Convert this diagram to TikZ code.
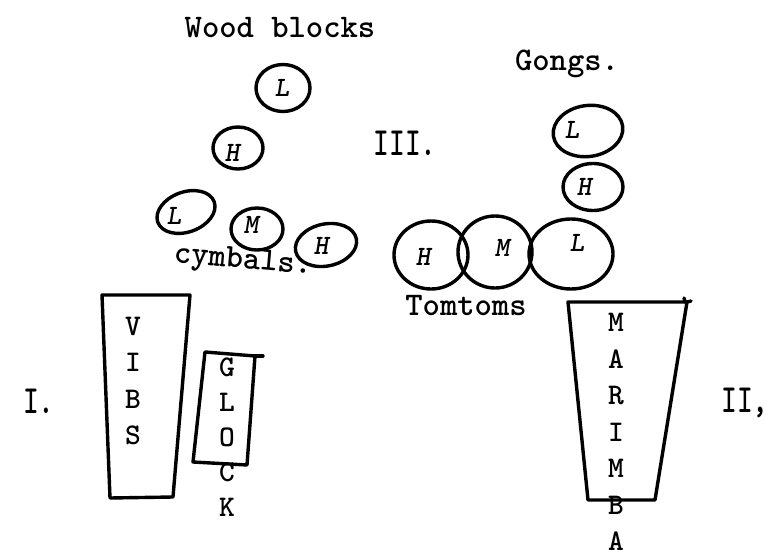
\documentclass[tikz,border=0pt]{standalone}
\usepackage{graphicx}
\usetikzlibrary{shapes.geometric}
\tikzset{
  drum/.style={ellipse, draw, line width=3.4pt, inner sep=0pt},
  ltr/.style={font=\ttfamily\bfseries\itshape\fontsize{28}{28}\selectfont, inner sep=0pt},
  lbl/.style={font=\ttfamily\bfseries\fontsize{33}{33}\selectfont, inner sep=0pt, anchor=base},
  roman/.style={font=\ttfamily\bfseries\fontsize{40}{40}\selectfont, inner sep=0pt, anchor=base},
  vert/.style={font=\ttfamily\bfseries\fontsize{30}{36.5}\selectfont, align=center, inner sep=0pt},
  frame/.style={draw, line width=3.4pt, line join=round, line cap=round}
}
\begin{document}
\begin{tikzpicture}[x=1pt,y=-1pt]
\useasboundingbox (0,0) rectangle (772,557);

% titles
\node[lbl] (wood) at (280,37) {Wood blocks};
\node[lbl] (gongs) at (567,70) {Gongs.};
\node[roman] (three) at (405,155) {\scalebox{0.75}[1]{III.}};
\node[lbl, anchor=center, rotate=-5] (cym) at (243,262) {cymbals.};
\node[lbl] (tom) at (466,315) {Tomtoms};
\node[roman] (one) at (39,413) {\scalebox{0.75}[1]{I.}};
\node[roman] (two) at (745,412) {\scalebox{0.75}[1]{II,}};

% wood blocks
\node[drum, minimum width=54pt, minimum height=47pt] (wbL) at (283,88) {};
\node[ltr] (wbLt) at (282,88) {L};
\node[drum, minimum width=50pt, minimum height=42pt] (wbH) at (238,148) {};
\node[ltr] (wbHt) at (232,153) {H};

% cymbals
\node[drum, minimum width=60pt, minimum height=40pt, rotate=20] (cyL) at (186,212) {};
\node[ltr] (cyLt) at (174,216) {L};
\node[drum, minimum width=52pt, minimum height=42pt] (cyM) at (257,229) {};
\node[ltr] (cyMt) at (251,225) {M};
\node[drum, minimum width=62pt, minimum height=42pt, rotate=12] (cyH) at (326,245) {};
\node[ltr] (cyHt) at (321,246) {H};

% gongs
\node[drum, minimum width=70pt, minimum height=51pt, rotate=8] (goL) at (588,131) {};
\node[ltr] (goLt) at (572,130) {L};
\node[drum, minimum width=60pt, minimum height=47pt] (goH) at (593,187) {};
\node[ltr] (goHt) at (584,187) {H};

% tomtoms
\node[drum, minimum width=74pt, minimum height=68pt] (ttH) at (431,255) {};
\node[ltr] (ttHt) at (423,257) {H};
\node[drum, minimum width=74pt, minimum height=72pt] (ttM) at (495,252) {};
\node[ltr] (ttMt) at (502,248) {M};
\node[drum, minimum width=84pt, minimum height=70pt] (ttL) at (571,254) {};
\node[ltr] (ttLt) at (577,243) {L};

% vibes
\draw[frame] (102,295) -- (190,295) -- (173,497) -- (110,498) -- cycle;
\node[vert] (vibs) at (133,381) {V\\I\\B\\S};

% glockenspiel
\draw[frame] (205,352) -- (255,356) -- (247,465) -- (193,462) -- cycle;
\draw[frame] (255,356) -- (263,356);
\node[vert, font=\ttfamily\bfseries\fontsize{30}{35}\selectfont] (glock) at (227,437) {G\\L\\O\\C\\K};

% marimba
\draw[frame] (568,302) -- (687,302) -- (655,500) -- (588,500) -- cycle;
\draw[frame] (687,302) -- (691,301);
\draw[frame] (684,298) -- (685,302);
\node[vert] (marimba) at (616,432) {M\\A\\R\\I\\M\\B\\A};

\end{tikzpicture}
\end{document}
